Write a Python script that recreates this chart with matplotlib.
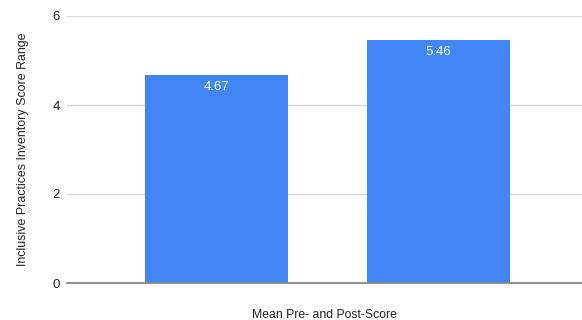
import matplotlib
matplotlib.use('Agg')
import matplotlib.pyplot as plt

categories = ['Pre-Score', 'Post-Score']
values = [4.67, 5.46]
value_labels = ['4.67', '5.46']
y_ticks = [0, 2, 4, 6]

plt.rcParams['font.family'] = ['Liberation Sans', 'DejaVu Sans']

fig = plt.figure(figsize=(5.82, 3.2), dpi=100)
ax = fig.add_axes([67/582, 37/320, 1 - 67/582, (283 - 16)/320])

x = range(len(categories))
bars = ax.bar(x, values, width=0.645, color='#4285F4', zorder=3)

# value labels inside the top of each bar
for b, lab in zip(bars, value_labels):
    ax.annotate(lab, (b.get_x() + b.get_width()/2, b.get_height()),
                xytext=(0, -12), textcoords='offset pixels',
                ha='center', va='center', color='white', fontsize=9.5, zorder=4)

ax.set_xlim(-0.673, 1.646)
ax.set_ylim(0, 6)
ax.set_yticks(y_ticks)
ax.set_xticks([])
ax.tick_params(axis='y', length=0, pad=5, labelsize=9.5, labelcolor='#222222')
ax.grid(axis='y', color='#d9d9d9', linewidth=1, zorder=0)
for s in ['top', 'right', 'left']:
    ax.spines[s].set_visible(False)
ax.spines['bottom'].set_color('#888888')
ax.spines['bottom'].set_linewidth(1.3)
ax.spines['bottom'].set_zorder(5)

ax.set_ylabel('Inclusive Practices Inventory Score Range', fontsize=8.9, color='#222222', labelpad=17)
ax.set_xlabel('Mean Pre- and Post-Score', fontsize=8.8, color='#222222', labelpad=19)

plt.savefig('out.png', dpi=100)
